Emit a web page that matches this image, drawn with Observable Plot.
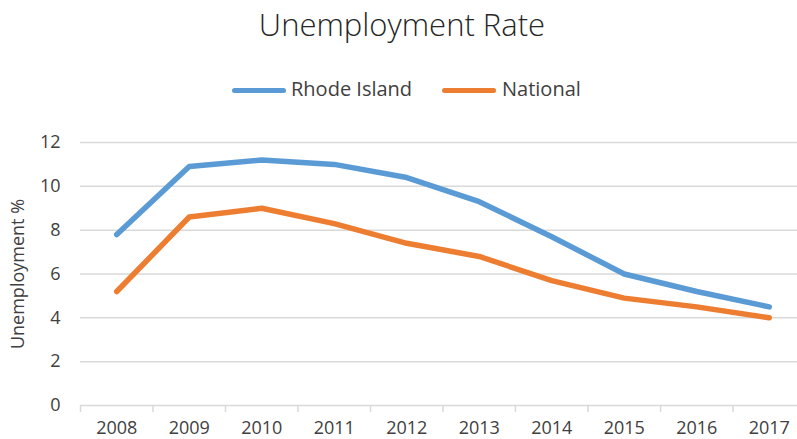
<!DOCTYPE html>
<html>
<head>
<meta charset="utf-8">
<script src="https://cdn.jsdelivr.net/npm/d3@7"></script>
<script src="https://cdn.jsdelivr.net/npm/@observablehq/plot@0.6"></script>
<style>
  html, body { margin: 0; padding: 0; background: #fff; overflow: hidden; }
  body { width: 797px; height: 439px; font-family: "Open Sans", sans-serif; }
  #header { position: relative; width: 797px; height: 110px; }
  #title { position: absolute; left: 0; width: 804px; top: 9px; text-align: center; font-size: 31px; line-height: 31px; font-weight: 300; color: #262626; white-space: nowrap; }
  .sw { position: absolute; top: 87.5px; width: 54px; height: 5px; border-radius: 3px; }
  .lt { position: absolute; top: 79px; font-size: 20px; line-height: 20px; color: #404040; white-space: nowrap; }
  #chart svg { display: block; }
</style>
</head>
<body>
<div id="header">
  <div id="title"></div>
  <div id="legend"></div>
</div>
<div id="chart"></div>
<script>
const title = "Unemployment Rate";
const yLabel = "Unemployment %";
const years = [2008, 2009, 2010, 2011, 2012, 2013, 2014, 2015, 2016, 2017];
const rhodeIsland = [7.8, 10.9, 11.2, 11.0, 10.4, 9.3, 7.7, 6.0, 5.2, 4.5];
const national = [5.2, 8.6, 9.0, 8.3, 7.4, 6.8, 5.7, 4.9, 4.5, 4.0];
const seriesNames = ["Rhode Island", "National"];
const seriesColors = ["#5B9BD5", "#ED7D31"];
const yTicks = [0, 2, 4, 6, 8, 10, 12];

document.getElementById("title").textContent = title;

// legend
const legend = document.getElementById("legend");
const legendPos = [{sw: 232, tx: 291}, {sw: 442, tx: 502}];
seriesNames.forEach((name, i) => {
  const s = document.createElement("div");
  s.className = "sw";
  s.style.left = legendPos[i].sw + "px";
  s.style.background = seriesColors[i];
  legend.appendChild(s);
  const t = document.createElement("div");
  t.className = "lt";
  t.style.left = legendPos[i].tx + "px";
  t.textContent = name;
  legend.appendChild(t);
});

const data = [];
years.forEach((y, i) => {
  data.push({year: y, value: rhodeIsland[i], series: seriesNames[0]});
  data.push({year: y, value: national[i], series: seriesNames[1]});
});
const boundaries = years.map(y => y - 0.5).concat([years[years.length - 1] + 0.5]);

const chart = Plot.plot({
  width: 797,
  height: 329,
  marginLeft: 80,
  marginRight: 0,
  marginTop: 32,
  marginBottom: 34,
  style: {fontFamily: "Open Sans, sans-serif", fontSize: "18px", color: "#404040", background: "#fff", overflow: "hidden"},
  x: {type: "linear", domain: [years[0] - 0.5, years[years.length - 1] + 0.5], range: [80, 805]},
  y: {domain: [0, 12]},
  color: {domain: seriesNames, range: seriesColors},
  marks: [
    Plot.ruleY(yTicks, {stroke: "#d9d9d9", strokeWidth: 1.5}),
    Plot.axisX({ticks: boundaries, tickFormat: () => "", tickSize: 7, stroke: "#d9d9d9", strokeWidth: 1.5, label: null}),
    Plot.axisX({ticks: years, tickFormat: d => String(d), tickSize: 0, tickPadding: 16, fill: "#404040", fontSize: 18, label: null}),
    Plot.axisY({ticks: yTicks, tickSize: 0, tickPadding: 20, fill: "#404040", fontSize: 18, label: null}),
    Plot.text([yLabel], {frameAnchor: "left", dx: -62, rotate: -90, fill: "#404040", fontSize: 18, textAnchor: "middle"}),
    Plot.line(data, {x: "year", y: "value", z: "series", stroke: "series", strokeWidth: 5.5, strokeLinecap: "round", strokeLinejoin: "round"})
  ]
});
document.getElementById("chart").appendChild(chart);
</script>
</body>
</html>
